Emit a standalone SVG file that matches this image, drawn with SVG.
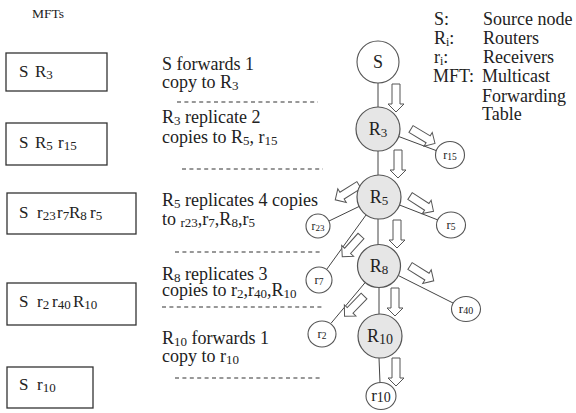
<svg xmlns="http://www.w3.org/2000/svg" width="576" height="413" viewBox="0 0 576 413">
<style>
.t{font-family:"Liberation Serif","Times New Roman",serif;fill:#222}
.box{fill:#fff;stroke:#333;stroke-width:1.3}
.dash{stroke:#333;stroke-width:1.2;stroke-dasharray:4 3.4}
.edge{stroke:#444;stroke-width:1;fill:none}
.router{fill:#e6e6e6;stroke:#555;stroke-width:1.2}
.recv{fill:#fff;stroke:#555;stroke-width:1.1}
.harrow{fill:#fff;stroke:#555;stroke-width:1}
</style>
<defs>
<path id="ha" d="M0,-4 H20 V-8 L28,0 L20,8 V4 H0 Z"/>
</defs>
<rect width="576" height="413" fill="#fff"/>

<text class="t" x="32" y="18" font-size="13.5">MFTs</text>

<g id="mft-boxes">
<g id="mft1"><rect class="box" x="6" y="53" width="101" height="38"/>
<text class="t" font-size="17" x="19" y="77">S</text>
<text class="t" font-size="17" x="35" y="77">R<tspan font-size="13" dy="2">3</tspan></text></g>
<g id="mft2"><rect class="box" x="6" y="123" width="101" height="42"/>
<text class="t" font-size="17" x="19" y="148">S</text>
<text class="t" font-size="17" x="35" y="148">R<tspan font-size="13" dy="2">5</tspan></text>
<text class="t" font-size="17" x="58" y="148">r<tspan font-size="13" dy="2">15</tspan></text></g>
<g id="mft3"><rect class="box" x="7" y="193" width="129" height="41"/>
<text class="t" font-size="17" x="19" y="218">S</text>
<text class="t" font-size="17" x="37" y="218">r<tspan font-size="13" dy="2">23</tspan></text>
<text class="t" font-size="17" x="57" y="218">r<tspan font-size="13" dy="2">7</tspan></text>
<text class="t" font-size="17" x="69" y="218">R<tspan font-size="13" dy="2">8</tspan></text>
<text class="t" font-size="17" x="90" y="218">r<tspan font-size="13" dy="2">5</tspan></text></g>
<g id="mft4"><rect class="box" x="7" y="283" width="129" height="42"/>
<text class="t" font-size="17" x="19" y="307">S</text>
<text class="t" font-size="17" x="37" y="307">r<tspan font-size="13" dy="2">2</tspan></text>
<text class="t" font-size="17" x="52" y="307">r<tspan font-size="13" dy="2">40</tspan></text>
<text class="t" font-size="17" x="73" y="307">R<tspan font-size="13" dy="2">10</tspan></text></g>
<g id="mft5"><rect class="box" x="7" y="367" width="86" height="41"/>
<text class="t" font-size="17" x="19" y="390">S</text>
<text class="t" font-size="17" x="37" y="390">r<tspan font-size="13" dy="2">10</tspan></text></g>
</g>

<g id="steps" class="t" font-size="18">
<text x="162" y="70">S forwards 1</text>
<text x="162" y="88">copy to R<tspan font-size="13" dy="2">3</tspan></text>
<text x="162" y="123">R<tspan font-size="13" dy="2">3</tspan><tspan dy="-2"> replicate 2</tspan></text>
<text x="162" y="143">copies to R<tspan font-size="13" dy="2">5</tspan><tspan dy="-2">, r</tspan><tspan font-size="13" dy="2">15</tspan></text>
<text x="162" y="206">R<tspan font-size="13" dy="2">5</tspan><tspan dy="-2"> replicates 4 copies</tspan></text>
<text x="162" y="225">to <tspan font-size="13" dy="2">r23</tspan><tspan dy="-2">,r</tspan><tspan font-size="13" dy="2">7</tspan><tspan dy="-2">,R</tspan><tspan font-size="13" dy="2">8</tspan><tspan dy="-2">,r</tspan><tspan font-size="13" dy="2">5</tspan></text>
<text x="162" y="280">R<tspan font-size="13" dy="2">8</tspan><tspan dy="-2"> replicates 3</tspan></text>
<text x="162" y="296">copies to r<tspan font-size="13" dy="2">2</tspan><tspan dy="-2">,r</tspan><tspan font-size="13" dy="2">40</tspan><tspan dy="-2">,R</tspan><tspan font-size="13" dy="2">10</tspan></text>
<text x="162" y="344">R<tspan font-size="13" dy="2">10</tspan><tspan dy="-2"> forwards 1</tspan></text>
<text x="162" y="362">copy to r<tspan font-size="13" dy="2">10</tspan></text>
</g>

<g id="separators">
<line class="dash" x1="177" y1="102" x2="318" y2="102"/>
<line class="dash" x1="182" y1="169" x2="323" y2="169"/>
<line class="dash" x1="175" y1="252" x2="323" y2="252"/>
<line class="dash" x1="162" y1="307" x2="323" y2="307"/>
<line class="dash" x1="175" y1="378" x2="323" y2="378"/>
</g>

<g id="legend" class="t" font-size="18">
<text x="434" y="25">S:</text><text x="483" y="25">Source node</text>
<text x="434" y="44">R<tspan font-size="12" dy="2">i</tspan><tspan dy="-2">:</tspan></text><text x="483" y="44">Routers</text>
<text x="434" y="63">r<tspan font-size="12" dy="2">i</tspan><tspan dy="-2">:</tspan></text><text x="483" y="63">Receivers</text>
<text x="433" y="82">MFT:</text><text x="482" y="82">Multicast</text>
<text x="482" y="102">Forwarding</text>
<text x="482" y="120">Table</text>
</g>

<g id="connectors">
<line class="edge" x1="378" y1="83" x2="378" y2="107"/>
<line class="edge" x1="378" y1="151" x2="378" y2="175"/>
<line class="edge" x1="378" y1="219" x2="378" y2="245"/>
<line class="edge" x1="379" y1="288" x2="379" y2="314"/>
<line class="edge" x1="379" y1="358" x2="380" y2="383"/>
<line class="edge" x1="398.7" y1="136.5" x2="440" y2="152"/>
<line class="edge" x1="359" y1="206.5" x2="329" y2="221"/>
<line class="edge" x1="399.5" y1="205" x2="438" y2="220"/>
<line class="edge" x1="366" y1="215" x2="326.6" y2="269.5"/>
<line class="edge" x1="398.3" y1="275.5" x2="453.4" y2="303.2"/>
<line class="edge" x1="365.2" y1="282.5" x2="331" y2="323.3"/>
<use href="#ha" class="harrow" transform="translate(396,84) rotate(90)"/>
<use href="#ha" class="harrow" transform="translate(398,150) rotate(90)"/>
<use href="#ha" class="harrow" transform="translate(397,220) rotate(90)"/>
<use href="#ha" class="harrow" transform="translate(395,288) rotate(90)"/>
<use href="#ha" class="harrow" transform="translate(396,358) rotate(90)"/>
<use href="#ha" class="harrow" transform="translate(411,129) rotate(31)"/>
<use href="#ha" class="harrow" transform="translate(359,185) rotate(148)"/>
<use href="#ha" class="harrow" transform="translate(410,196) rotate(33)"/>
<use href="#ha" class="harrow" transform="translate(361,236) rotate(132)"/>
<use href="#ha" class="harrow" transform="translate(410,266) rotate(32)"/>
<use href="#ha" class="harrow" transform="translate(364,296) rotate(134)"/>
</g>

<g id="node-S"><circle class="recv" cx="378" cy="62" r="21"/><text class="t" x="378" y="68" font-size="18" text-anchor="middle">S</text></g>
<g id="node-R3"><circle class="router" cx="378" cy="129" r="22"/><text class="t" x="378" y="135" font-size="18" text-anchor="middle">R<tspan font-size="13" dy="2">3</tspan></text></g>
<g id="node-R5"><circle class="router" cx="379" cy="197" r="22"/><text class="t" x="379" y="203" font-size="18" text-anchor="middle">R<tspan font-size="13" dy="2">5</tspan></text></g>
<g id="node-R8"><circle class="router" cx="379" cy="266" r="21.5"/><text class="t" x="379" y="272" font-size="18" text-anchor="middle">R<tspan font-size="13" dy="2">8</tspan></text></g>
<g id="node-R10"><circle class="router" cx="380" cy="336" r="22"/><text class="t" x="380" y="342" font-size="18" text-anchor="middle">R<tspan font-size="14" dy="2">10</tspan></text></g>
<g id="node-r15"><ellipse class="recv" cx="450" cy="155" rx="14.5" ry="13.5"/><text class="t" x="450" y="159" font-size="12" text-anchor="middle">r<tspan font-size="9.5" dy="1">15</tspan></text></g>
<g id="node-r23"><ellipse class="recv" cx="318" cy="226" rx="12" ry="12"/><text class="t" x="318" y="230" font-size="11.5" text-anchor="middle">r<tspan font-size="9" dy="1">23</tspan></text></g>
<g id="node-r5"><ellipse class="recv" cx="451" cy="225" rx="14.5" ry="13"/><text class="t" x="451" y="229" font-size="12.5" text-anchor="middle">r<tspan font-size="9.5" dy="1">5</tspan></text></g>
<g id="node-r7"><ellipse class="recv" cx="319" cy="280" rx="13" ry="13"/><text class="t" x="319" y="284" font-size="12.5" text-anchor="middle">r<tspan font-size="9.5" dy="1">7</tspan></text></g>
<g id="node-r40"><ellipse class="recv" cx="466" cy="309" rx="14.5" ry="12.5"/><text class="t" x="466" y="313" font-size="13" text-anchor="middle">r<tspan font-size="10" dy="1">40</tspan></text></g>
<g id="node-r2"><ellipse class="recv" cx="322" cy="334" rx="14" ry="13"/><text class="t" x="322" y="338" font-size="12.5" text-anchor="middle">r<tspan font-size="9.5" dy="1">2</tspan></text></g>
<g id="node-r10"><ellipse class="recv" cx="381" cy="396" rx="15" ry="13.5"/><text class="t" x="381" y="401" font-size="17" text-anchor="middle">r<tspan font-size="14" dy="1">10</tspan></text></g>
</svg>
